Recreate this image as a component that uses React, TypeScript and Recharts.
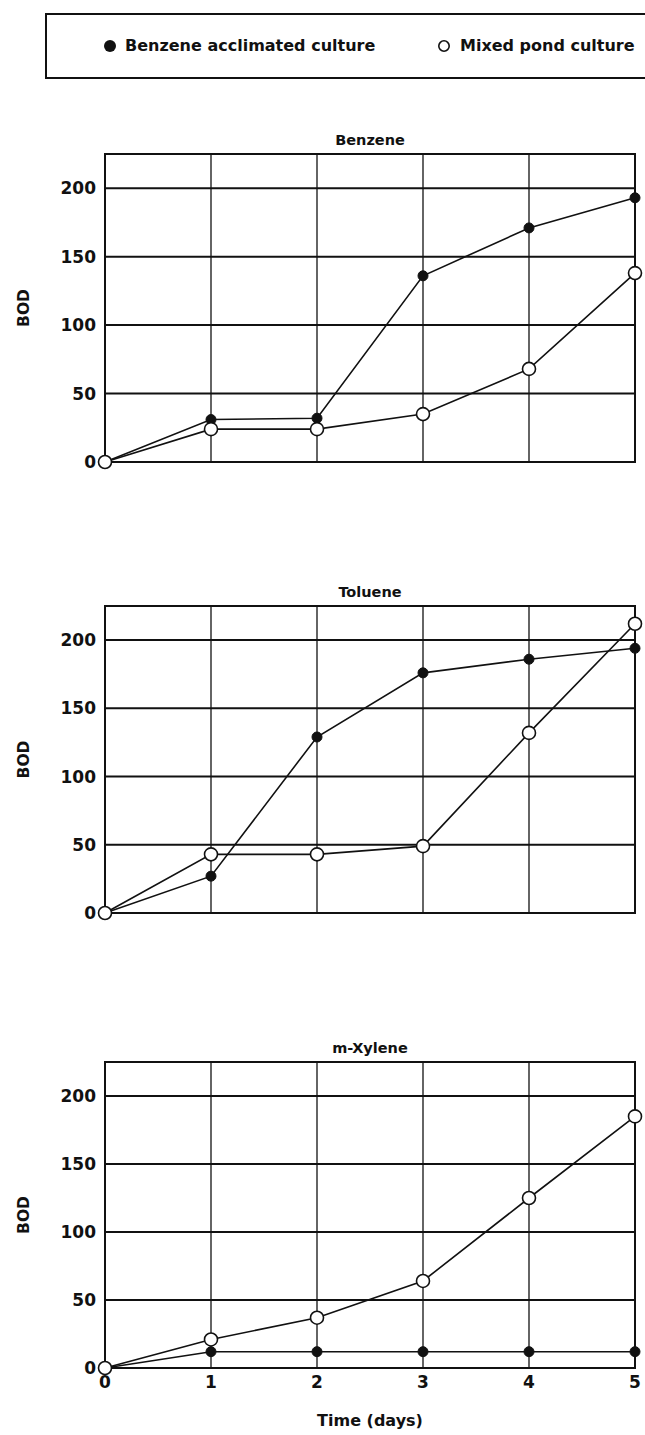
import React from "react";
import {
  CartesianGrid,
  Label,
  Line,
  LineChart,
  ReferenceArea,
  XAxis,
  YAxis,
} from "recharts";

const days = [0, 1, 2, 3, 4, 5];
const yTicks = [0, 50, 100, 150, 200];

const benzeneAcclimated = [0, 31, 32, 136, 171, 193];
const benzenePond = [0, 24, 24, 35, 68, 138];
const tolueneAcclimated = [0, 27, 129, 176, 186, 194];
const toluenePond = [0, 43, 43, 49, 132, 212];
const xyleneAcclimated = [0, 12, 12, 12, 12, 12];
const xylenePond = [0, 21, 37, 64, 125, 185];

const INK = "#111";
const FONT = "'DejaVu Sans', sans-serif";
const tickStyle = { fill: INK, fontSize: 17, fontFamily: FONT, fontWeight: "bold" };

type PanelProps = {
  title: string;
  acclimated: number[];
  pond: number[];
  plotTop: number;
  plotBottom: number;
  showX?: boolean;
};

function Panel({ title, acclimated, pond, plotTop, plotBottom, showX }: PanelProps) {
  const rows = days.map((d, i) => ({ day: d, acclimated: acclimated[i], pond: pond[i] }));
  const plotH = plotBottom - plotTop;
  const xH = showX ? 64 : 0;
  const height = 10 + plotH + (showX ? xH : 10);

  return (
    <>
      <div
        style={{
          position: "absolute",
          left: 105,
          width: 530,
          top: plotTop - 24,
          lineHeight: "20px",
          textAlign: "center",
          fontFamily: FONT,
          fontWeight: "bold",
          fontSize: 14.5,
          color: INK,
        }}
      >
        {title}
      </div>
      <div style={{ position: "absolute", left: 0, top: plotTop - 10 }}>
        <LineChart
          width={645}
          height={height}
          data={rows}
          margin={{ top: 10, right: 10, bottom: showX ? 0 : 10, left: 0 }}
        >
          <CartesianGrid vertical={false} stroke={INK} strokeWidth={2} />
          <CartesianGrid horizontal={false} stroke={INK} strokeWidth={1.3} />
          <XAxis
            dataKey="day"
            type="number"
            domain={[0, 5]}
            ticks={days}
            interval={0}
            hide={!showX}
            height={xH}
            axisLine={false}
            tickLine={false}
            tickSize={0}
            tickMargin={8}
            tick={tickStyle}
          >
            {showX && (
              <Label
                value="Time (days)"
                position="insideBottom"
                offset={6}
                style={{ fill: INK, fontSize: 16, fontFamily: FONT, fontWeight: "bold" }}
              />
            )}
          </XAxis>
          <YAxis
            type="number"
            domain={[0, 225]}
            ticks={yTicks}
            interval={0}
            width={105}
            axisLine={false}
            tickLine={false}
            tickSize={0}
            tickMargin={9}
            tick={tickStyle}
          >
            <Label
              content={({ viewBox }: any) => {
                const cy = viewBox.y + viewBox.height / 2;
                return (
                  <text
                    x={23}
                    y={cy}
                    dy="0.36em"
                    transform={`rotate(-90 23 ${cy})`}
                    textAnchor="middle"
                    fill={INK}
                    fontSize={15.5}
                    fontWeight="bold"
                    fontFamily={FONT}
                  >
                    BOD
                  </text>
                );
              }}
            />
          </YAxis>
          <ReferenceArea
            x1={0}
            x2={5}
            y1={0}
            y2={225}
            fill="none"
            stroke={INK}
            strokeWidth={2}
            ifOverflow="visible"
          />
          <Line
            dataKey="acclimated"
            stroke={INK}
            strokeWidth={1.6}
            dot={{ r: 5, fill: INK, stroke: INK, strokeWidth: 1 }}
            isAnimationActive={false}
          />
          <Line
            dataKey="pond"
            stroke={INK}
            strokeWidth={1.6}
            dot={{ r: 6.5, fill: "#fff", stroke: INK, strokeWidth: 1.6 }}
            isAnimationActive={false}
          />
        </LineChart>
      </div>
    </>
  );
}

export default function App() {
  return (
    <div
      style={{
        position: "absolute",
        left: 0,
        top: 0,
        width: 645,
        height: 1435,
        background: "#fff",
        overflow: "hidden",
      }}
    >
      <div
        style={{
          position: "absolute",
          left: 45,
          top: 13,
          width: 640,
          height: 62,
          border: `2.5px solid ${INK}`,
          fontFamily: FONT,
          fontWeight: "bold",
          fontSize: 16,
          lineHeight: "20px",
          color: INK,
        }}
      >
        <svg width={14} height={14} style={{ position: "absolute", left: 56, top: 24 }}>
          <circle cx={7} cy={7} r={6} fill={INK} />
        </svg>
        <span style={{ position: "absolute", left: 78, top: 21 }}>Benzene acclimated culture</span>
        <svg width={14} height={14} style={{ position: "absolute", left: 390, top: 24 }}>
          <circle cx={7} cy={7} r={5.2} fill="#fff" stroke={INK} strokeWidth={1.6} />
        </svg>
        <span style={{ position: "absolute", left: 413, top: 21 }}>Mixed pond culture</span>
      </div>
      <Panel
        title="Benzene"
        acclimated={benzeneAcclimated}
        pond={benzenePond}
        plotTop={154}
        plotBottom={462}
      />
      <Panel
        title="Toluene"
        acclimated={tolueneAcclimated}
        pond={toluenePond}
        plotTop={606}
        plotBottom={913}
      />
      <Panel
        title="m-Xylene"
        acclimated={xyleneAcclimated}
        pond={xylenePond}
        plotTop={1062}
        plotBottom={1368}
        showX
      />
    </div>
  );
}
